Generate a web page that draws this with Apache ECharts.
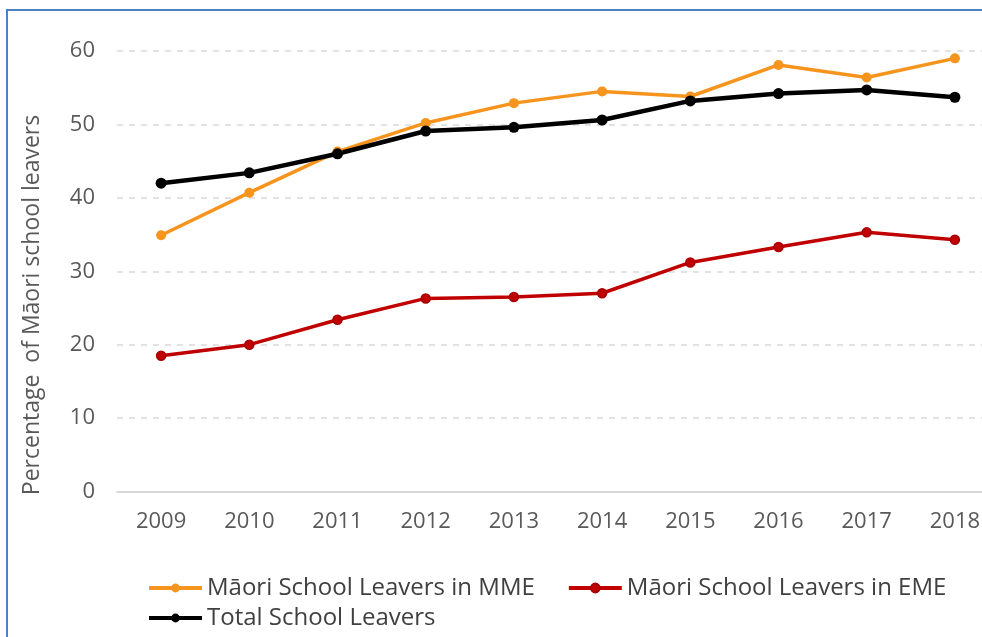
<!DOCTYPE html>
<html>
<head>
<meta charset="utf-8">
<script src="https://cdn.jsdelivr.net/npm/echarts@6/dist/echarts.min.js"></script>
<style>
html,body{margin:0;padding:0;background:#fff;}
#chart{width:982px;height:637px;}
</style>
</head>
<body>
<div id="chart"></div>
<script>
var years = ['2009','2010','2011','2012','2013','2014','2015','2016','2017','2018'];
var yTicks = [0, 10, 20, 30, 40, 50, 60];
var mmeName = 'Māori School Leavers in MME';
var emeName = 'Māori School Leavers in EME';
var totalName = 'Total School Leavers';
var mmeValues = [34.9, 40.7, 46.3, 50.2, 52.9, 54.5, 53.8, 58.1, 56.4, 59.0];
var emeValues = [18.5, 20.0, 23.4, 26.3, 26.5, 27.0, 31.2, 33.3, 35.3, 34.3];
var totalValues = [42.0, 43.4, 46.0, 49.1, 49.6, 50.6, 53.2, 54.2, 54.7, 53.7];
var yTitle = 'Percentage  of Māori school leavers';

var FONT = 'Open Sans';
var chart = echarts.init(document.getElementById('chart'));
var legendText = { color: '#404040', fontFamily: FONT, fontSize: 24 };
var option = {
  backgroundColor: '#ffffff',
  animation: false,
  grid: { left: 117, width: 882, top: 51, height: 440.5, outerBoundsMode: 'none', containLabel: false },
  xAxis: {
    type: 'category',
    data: years,
    boundaryGap: true,
    axisLine: { show: true, lineStyle: { color: '#d9d9d9', width: 2 } },
    axisTick: { show: false },
    axisLabel: { color: '#595959', fontFamily: FONT, fontSize: 22, margin: 19 },
    splitLine: { show: false }
  },
  yAxis: {
    type: 'value',
    min: yTicks[0],
    max: yTicks[yTicks.length - 1],
    interval: 10,
    axisLine: { show: false },
    axisTick: { show: false },
    axisLabel: { color: '#595959', fontFamily: FONT, fontSize: 22, margin: 22 },
    splitLine: { show: true, lineStyle: { color: '#d9d9d9', type: [6, 6], width: 1.5 } }
  },
  legend: [
    {
      data: [mmeName, emeName],
      left: 142, top: 571,
      itemWidth: 53, itemHeight: 11, itemGap: 32,
      lineStyle: { width: 4 },
      textStyle: legendText
    },
    {
      data: [totalName],
      left: 142, top: 601,
      itemWidth: 53, itemHeight: 11,
      lineStyle: { width: 4 },
      textStyle: legendText
    }
  ],
  graphic: [
    {
      type: 'rect',
      shape: { x: 7, y: 10, width: 1100, height: 800 },
      style: { fill: 'none', stroke: '#4f7fc4', lineWidth: 2 },
      silent: true
    },
    {
      type: 'text',
      x: 32, y: 305,
      rotation: Math.PI / 2,
      style: {
        text: yTitle,
        fill: '#595959',
        font: '23px "Open Sans"',
        align: 'center',
        verticalAlign: 'middle'
      }
    }
  ],
  series: [
    {
      name: mmeName, type: 'line', data: mmeValues,
      symbol: 'circle', symbolSize: 10,
      lineStyle: { color: '#f7941d', width: 3.5 },
      itemStyle: { color: '#f7941d' }
    },
    {
      name: emeName, type: 'line', data: emeValues,
      symbol: 'circle', symbolSize: 9,
      lineStyle: { color: '#c00000', width: 3.5 },
      itemStyle: { color: '#c00000', borderColor: '#a80000', borderWidth: 1.5 }
    },
    {
      name: totalName, type: 'line', data: totalValues,
      symbol: 'circle', symbolSize: 11,
      lineStyle: { color: '#000000', width: 4.5 },
      itemStyle: { color: '#000000' }
    }
  ]
};
chart.setOption(option);
</script>
</body>
</html>
